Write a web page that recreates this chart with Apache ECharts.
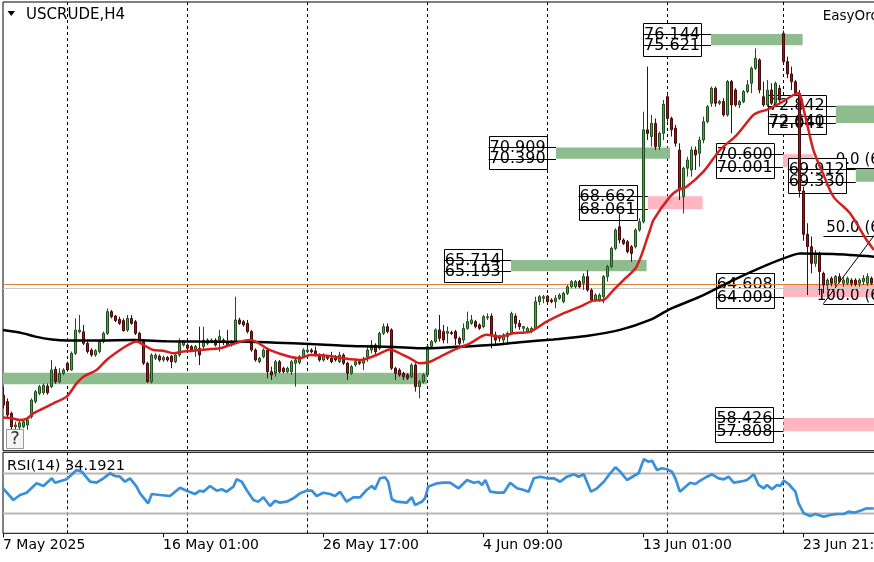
<!DOCTYPE html>
<html><head><meta charset="utf-8">
<script src="https://cdn.jsdelivr.net/npm/echarts@6/dist/echarts.min.js"></script>
<style>html,body{margin:0;padding:0;background:#fff;overflow:hidden}#c{width:874px;height:562px}</style>
</head><body><div id="c"></div><script>
const FONT = 'DejaVu Sans';
// x axis tick labels (every 40 H4 bars) and vertical grid-line bars
const xTickLabels = ['7 May 2025','16 May 01:00','26 May 17:00','4 Jun 09:00','13 Jun 01:00','23 Jun 21:00'];
const gridBars = [16,46,76,106,136,166,195];

// H4 candles, bar index 0..217
const opens = [
59.48,59.18,58.64,58.02,58.00,58.02,58.10,58.48,59.18,59.56,
59.59,59.90,59.87,60.67,60.10,60.48,60.95,60.64,61.41,62.40,
62.40,61.87,61.56,61.33,61.49,61.95,62.33,63.33,63.13,62.98,
62.92,62.48,63.02,62.87,62.33,61.95,60.95,60.10,61.18,61.28,
61.10,61.22,61.28,61.02,61.33,61.79,61.79,61.72,61.56,61.64,
61.72,61.87,61.95,62.02,61.95,62.02,61.95,61.79,61.95,62.95,
62.87,62.79,62.41,61.56,61.02,61.25,61.56,60.56,60.49,61.02,
60.72,60.56,60.56,60.95,60.98,61.25,61.48,61.56,61.52,61.33,
61.10,61.25,61.18,61.25,61.02,61.33,60.95,60.49,60.87,61.02,
60.95,61.25,61.56,61.79,61.64,62.33,62.64,62.49,60.72,60.64,
60.49,60.41,60.33,60.87,59.87,60.10,60.41,61.72,61.95,62.49,
62.41,62.33,62.37,62.41,62.10,62.02,62.56,62.79,62.87,62.72,
62.64,63.05,63.13,62.26,62.18,62.02,62.18,62.33,63.13,62.79,
62.56,62.41,62.41,62.56,63.79,63.95,64.05,63.87,63.79,63.95,
63.79,64.18,64.48,64.48,64.72,64.64,64.95,64.33,63.87,63.87,
64.02,64.95,65.41,66.25,67.25,66.64,66.56,66.33,66.33,67.10,
67.48,71.72,71.41,72.02,70.95,71.56,73.25,72.25,71.80,70.79,
68.64,69.95,69.87,70.79,70.64,71.25,72.10,72.95,73.64,72.95,
73.03,72.41,73.95,73.56,72.87,73.02,73.49,73.87,74.56,74.95,
73.25,72.87,73.56,72.95,73.64,76.17,74.87,74.30,73.94,73.40,
68.90,66.90,66.33,65.56,66.00,65.10,64.56,64.87,64.64,64.95,
64.64,64.64,64.79,64.79,64.64,64.72,64.64,64.87];
const highs = [
59.87,59.33,58.72,58.25,58.30,58.35,58.48,59.33,59.72,59.95,
60.02,60.02,61.10,60.80,60.72,60.72,61.02,61.49,63.02,63.18,
62.72,61.95,61.64,61.60,62.02,62.41,63.48,63.41,63.18,63.10,
63.02,63.18,63.18,62.95,62.41,62.02,61.02,61.41,61.41,61.36,
61.30,61.28,61.33,61.41,62.10,62.02,61.87,61.79,61.79,62.64,
62.64,62.10,62.10,62.10,62.49,62.10,62.49,62.02,64.02,63.05,
62.95,62.95,62.49,61.64,61.25,61.64,61.64,60.79,61.10,61.10,
60.79,60.79,61.10,61.25,61.33,61.64,61.72,61.64,61.72,61.41,
61.41,61.33,61.48,61.33,61.48,61.41,61.02,60.87,61.10,61.10,
61.25,61.72,62.02,61.87,62.41,62.79,62.79,62.56,60.79,60.72,
60.56,60.49,60.95,60.95,60.18,60.49,61.79,62.02,62.56,63.18,
62.72,62.64,62.45,62.49,62.18,62.79,63.33,63.18,62.95,62.79,
63.18,63.25,63.25,62.41,62.26,62.33,62.41,63.33,63.25,62.95,
62.67,62.64,62.64,64.02,64.10,64.10,64.10,63.95,64.10,64.18,
64.25,64.56,64.79,64.79,64.79,65.10,65.25,64.41,64.18,64.18,
65.02,65.49,66.33,67.18,67.87,66.72,66.64,66.41,67.18,67.64,
72.56,74.64,72.41,72.25,71.64,73.10,73.40,72.33,71.95,71.10,
70.02,70.48,70.95,70.95,71.41,72.33,72.87,73.72,73.72,73.10,
73.18,74.02,74.02,73.64,73.10,73.56,74.02,74.64,75.48,75.02,
73.95,74.02,73.87,73.95,73.80,76.30,75.10,74.64,74.02,73.56,
69.10,67.41,66.80,66.18,66.10,65.18,64.87,64.95,65.02,65.10,
64.95,64.95,64.87,64.87,64.87,65.02,65.10,64.95];
const lows = [
58.87,58.41,57.79,57.85,57.90,57.95,57.88,58.40,59.10,59.48,
59.50,59.50,59.80,60.00,60.02,60.40,60.56,60.60,61.33,62.33,
61.79,61.40,61.25,61.25,61.41,61.87,62.25,63.02,62.85,62.72,
62.41,62.40,62.72,62.25,61.87,60.87,60.05,60.02,61.10,61.02,
61.02,61.02,60.72,60.95,61.25,61.72,61.56,61.49,61.25,60.87,
61.56,61.79,61.87,61.72,61.48,61.79,61.72,61.72,61.87,62.72,
62.64,62.33,61.48,61.02,60.95,61.18,60.26,60.18,60.33,60.49,
60.49,60.49,60.41,59.87,60.90,61.18,61.41,61.41,61.25,61.02,
61.02,61.10,60.95,61.02,60.95,60.87,60.18,60.41,60.79,60.87,
60.64,61.02,61.41,61.33,61.56,62.25,62.33,60.64,60.18,60.33,
60.18,60.18,60.26,59.64,59.33,60.02,60.33,61.64,61.87,61.95,
61.87,61.87,62.26,61.79,61.79,61.87,62.49,62.72,62.56,62.49,
62.56,62.95,61.64,61.79,61.95,61.87,61.87,62.26,62.56,62.49,
62.41,62.33,62.33,62.49,63.64,63.72,63.72,63.72,63.49,63.87,
63.72,64.10,64.41,64.41,64.41,64.33,64.25,63.79,63.80,63.79,
63.72,64.72,65.33,66.17,66.48,66.41,66.02,65.64,66.25,67.02,
67.40,71.25,70.95,70.79,70.79,71.25,72.10,71.41,70.95,68.48,
67.87,69.56,69.56,69.87,70.02,71.10,72.02,72.79,72.79,72.87,
72.33,72.33,71.56,72.79,72.72,72.95,73.41,73.41,74.48,73.41,
72.79,72.79,72.87,72.79,72.95,74.80,74.10,73.56,73.33,68.60,
66.60,64.10,65.10,65.40,64.10,64.18,64.33,64.50,64.48,64.64,
64.48,64.56,64.50,64.50,64.48,64.56,64.52,64.56];
const closes = [
59.02,58.56,58.02,58.10,58.20,58.25,58.33,59.25,59.64,59.87,
59.93,59.59,60.64,60.10,60.48,60.64,60.64,61.41,62.48,62.48,
61.87,61.49,61.33,61.53,61.95,62.33,63.33,63.10,62.92,62.79,
62.45,63.02,62.79,62.33,61.95,60.95,60.10,61.33,61.33,61.10,
61.22,61.10,61.02,61.33,61.87,61.95,61.64,61.56,61.72,61.33,
62.02,62.02,62.02,61.79,62.18,61.90,61.79,61.95,62.95,62.79,
62.72,62.41,61.56,61.10,61.18,61.56,60.56,60.41,61.02,60.56,
60.56,60.72,61.02,61.10,61.25,61.56,61.56,61.48,61.33,61.10,
61.33,61.18,61.02,61.10,61.33,60.95,60.49,60.79,61.02,60.95,
61.10,61.56,61.79,61.48,62.33,62.64,62.41,60.72,60.49,60.41,
60.33,60.26,60.87,59.87,60.10,60.41,61.72,61.95,62.49,62.10,
62.02,62.41,62.33,62.10,61.87,62.56,62.87,62.95,62.64,62.56,
63.10,63.10,62.26,62.02,62.10,62.26,62.33,63.25,62.79,62.64,
62.64,62.56,62.56,63.79,64.02,64.02,63.79,63.79,63.95,64.10,
64.18,64.48,64.72,64.72,64.48,64.95,64.33,63.87,64.10,64.10,
64.95,65.41,66.25,67.10,66.64,66.48,66.10,66.02,67.10,67.48,
71.72,71.56,72.02,70.95,71.56,72.90,72.25,71.72,71.10,68.95,
69.95,70.33,70.79,70.56,71.25,72.10,72.79,73.64,72.95,73.03,
72.41,73.95,72.87,72.87,73.02,73.49,73.80,74.56,75.02,73.56,
72.87,73.56,72.95,73.87,73.10,74.87,74.30,73.94,73.40,68.90,
66.90,66.33,65.56,66.00,65.18,64.56,64.79,64.64,64.95,64.72,
64.79,64.87,64.64,64.60,64.79,64.87,64.95,64.64];

// moving averages (bar, value)
const maRedBars = [0,2.5,4.25,6,7.6,10.1,12.6,15.9,18.4,20.1,23.4,25.9,29.25,31.75,33.4,35.1,37.6,40.1,42.6,45.1,47.6,50.9,54.25,56.75,61.75,66.75,71.75,74.25,76.75,81.75,85.1,89.25,93.4,96.75,98.4,101.75,104.25,106.75,109.25,112.6,116.75,120.9,124.25,127.6,131.75,135.9,140.1,144.25,147.6,150.1,152.6,155.1,158.4,161.75,162.6,166.75,168.8,170.9,175.1,179.25,183.4,187.6,189.25,190.9,194.25,197.6,198.8,200.5,202.6,205,207.6,211.75,215.9,217.75];
const maRedVals = [58.45,58.40,58.33,58.40,58.64,58.87,59.10,59.41,60.02,60.33,60.64,61.10,61.56,61.84,61.95,61.80,61.56,61.53,61.41,61.49,61.53,61.59,61.64,61.79,62.02,61.56,61.25,61.18,61.33,61.29,61.18,61.10,61.33,61.59,61.48,61.18,60.95,61.02,61.25,61.56,61.87,62.26,62.18,62.33,62.41,62.87,63.25,63.56,63.84,63.87,64.33,64.79,65.41,67.10,67.56,68.64,68.95,69.10,69.79,70.79,71.48,72.41,72.56,72.64,72.95,73.33,73.41,72.40,70.79,69.71,68.64,67.87,66.64,66.18];
const maBlackBars = [0,5,8.1,12.25,16,24.25,32.6,40.9,49.25,60,68.4,76.75,85.1,93.4,101.75,104.25,112.6,120.9,129.25,137.6,145.9,154.25,161.75,166.75,174.25,182.6,190.9,197.6,199.25,207.6,217.75];
const maBlackVals = [62.48,62.33,62.18,62.05,62.00,62.00,62.02,61.97,61.95,61.94,61.90,61.84,61.76,61.72,61.67,61.64,61.70,61.78,61.92,62.05,62.21,62.49,62.95,63.45,64.02,64.79,65.48,65.95,66.02,65.99,65.87];

// RSI(14)
const rsiBars = [0,2.6,4.25,5.9,8.4,10.1,12.2,13,15.9,18.4,19.7,21.75,23.4,25.1,26.75,28,29.25,30.5,31.75,33.4,34.25,36.3,37.2,39.25,41.75,44.25,45.9,48,49.25,50.1,51.75,53.4,54.7,55.9,57.6,58.4,59.7,60.9,62.6,63.8,65.1,66.75,68,69.25,70.9,72.6,74.25,75.9,77.2,78.4,80.1,81.75,83,84.25,85.9,87.6,89.25,90.9,92.2,93,94.25,95.5,96.3,97.2,98.4,100.9,102.2,103,104.7,105.5,106.3,
108.5,110.2,111.8,113.9,116,117.7,118.9,119.75,120.6,121.8,123.5,125.2,126.8,128.5,130.2,131.4,132.7,134.3,136,137.7,139.3,141,142.7,143.9,145.2,147,148.5,150.2,151.8,153.1,154.3,156,157.7,158.9,160.2,161.4,162.25,163.5,164.75,166,167.25,168.1,169.2,170.2,171.8,173.1,174.3,176,177.25,178.9,180.2,181.4,182.7,184.3,186,187.7,188.9,190.2,191,192.25,193.5,194.3,195.2,196.4,198.1,198.9,200.2,201.8,203.1,205.2,206.8,208.5,210.2,211.4,212.7,214.3,216,217.7];
const rsiValues = [54.4,42.7,47.7,50,59.4,56.7,64.4,60,63.4,72.7,71,61,60,64.4,69.4,66.7,66,61,64.4,56,49.4,39.4,48.7,47.7,46.7,55,52,48.7,52,51,56.7,52,53.4,51,56,63.4,61,52.7,42.7,41,45.4,36.7,42,40,41,44.4,49.4,52,52,46.7,50,48.7,46.7,51,41,45.4,45.4,52.7,56.7,53.4,64.4,65.4,61,43.4,41,40,45.4,37.7,41,44.4,56,
59.4,60,60,54.4,62.7,60,61,57.7,62.7,51,50,50,60,54.4,52.7,51,64.4,66,64.4,64.4,61,66,68.4,66,68.4,51,54.4,61,69.4,75.4,71,62.7,66.7,69.4,83.4,81,82,72.7,74.4,73.4,71,64.4,51,54.4,60,58.7,62,66,68.4,64.4,63.4,66,60,61,62.7,68.4,57.7,54.4,57.7,53.4,57.7,56.7,62,58.7,51,39.4,29.4,26.7,28.7,26,27.7,28.7,28.7,31,30,32,34.4,34.2];
const rsiLevels = [70, 30];

// supply / demand zones
const zoneStartBar = [0, 127, 138.25, 161.2, 177, 208.2, 195, 213.2, 195, 195.1];
const zoneEndBar   = [106, 160.9, 166.75, 174.9, 199.9, 240, 202.5, 240, 240, 240];
const zoneTop      = [60.51, 65.714, 70.909, 68.662, 76.144, 72.842, 70.600, 69.912, 64.608, 58.426];
const zoneBottom   = [59.98, 65.193, 70.390, 68.061, 75.621, 72.041, 70.001, 69.330, 64.009, 57.808];
const zoneKind     = ['g','g','g','p','g','g','p','g','p','p'];

// price label boxes
const boxRightBar   = [174.5, 205.7, 135.9, 158.4, 124.7, 192.7, 210.7, 192.7, 192.6];
const boxLineEndBar = [177, 208.2, 138.25, 161.2, 127, 195, 213.2, 195, 195.1];
const boxTexts = [['76.144','75.621'],['72.842','72.640','72.041'],['70.909','70.390'],['68.662','68.061'],['65.714','65.193'],['70.600','70.001'],['69.912','69.330'],['64.608','64.009'],['58.426','57.808']];
const boxTextPrices = [[76.144,75.621],[72.842,72.13,72.041],[70.909,70.390],[68.662,68.061],[65.714,65.193],[70.600,70.001],[69.912,69.330],[64.608,64.009],[58.426,57.808]];
const boxLinePrices = [[76.144,75.621],[72.842,72.38,72.041],[70.909,70.390],[68.662,68.061],[65.714,65.193],[70.600,70.001],[69.912,69.330],[64.608,64.009],[58.426,57.808]];

// Fibonacci retracement
const fibNames = ['0.0','50.0','100.0'];
const fibPrices = [69.98, 66.84, 63.70];
const fibStartBar = 205.1, fibTextBar = 231.4;
const fibTrend = [[205.1, 63.70], [230.4, 69.98]];

// bid / ask lines
const priceLines = [64.625, 64.41];
const priceLineColors = ['#e07b39', '#c8c8c8'];

const ZONE_GREEN = '#8fbc8f', ZONE_PINK = '#ffb6c1';

const chart = echarts.init(document.getElementById('c'));

function vGrid(params, api) {
  const cs = params.coordSys;
  const x = Math.round(api.coord([api.value(0), 0])[0]) + 0.5;
  return {type:'line', shape:{x1:x, y1:cs.y, x2:x, y2:cs.y + cs.height}, style:{stroke:'#000', lineWidth:1, lineDash:[3,3]}};
}
function hLine(color, width) {
  return function(params, api) {
    const cs = params.coordSys;
    const y = Math.round(api.coord([0, api.value(1)])[1]) + 0.5;
    const c = typeof color === 'function' ? color(params.dataIndex) : color;
    return {type:'line', shape:{x1:cs.x, y1:y, x2:cs.x + cs.width, y2:y}, style:{stroke:c, lineWidth:width}};
  };
}

const option = {
  animation: false,
  backgroundColor: '#fff',
  grid: [
    {left:3, right:-1, top:2, height:448.7, show:true, borderColor:'#000', borderWidth:1, backgroundColor:'transparent', containLabel:false, outerBoundsMode:'none'},
    {left:3, right:-1, top:452.3, height:81, show:true, borderColor:'#000', borderWidth:1, backgroundColor:'transparent', containLabel:false, outerBoundsMode:'none'}
  ],
  xAxis: [
    {type:'value', gridIndex:0, min:0, max:218, show:false},
    {type:'value', gridIndex:1, min:0, max:218, interval:40,
     axisLine:{show:false}, splitLine:{show:false},
     axisTick:{show:true, length:4, lineStyle:{color:'#000'}},
     axisLabel:{show:true, margin:5, align:'left', color:'#000', fontFamily:FONT, fontSize:14, showMaxLabel:false,
       formatter: v => xTickLabels[Math.round(v/40)] || ''}}
  ],
  yAxis: [
    {type:'value', gridIndex:0, min:56.915, max:77.621, show:false},
    {type:'value', gridIndex:1, min:9.4, max:90.4, show:false}
  ],
  graphic: [
    {type:'polygon', z:100, shape:{points:[[7.5,11],[15,11],[11.25,16]]}, style:{fill:'#000'}},
    {type:'text', z:100, x:26, y:15, style:{text:'USCRUDE,H4', font:'15px "DejaVu Sans"', fill:'#000', verticalAlign:'middle'}},
    {type:'text', z:100, x:822.7, y:16, style:{text:'EasyOrder', font:'13.5px "DejaVu Sans"', fill:'#000', verticalAlign:'middle'}},
    {type:'text', z:100, x:7, y:466, style:{text:'RSI(14) 34.1921', font:'14.5px "DejaVu Sans"', fill:'#000', verticalAlign:'middle'}},
    {type:'rect', z:100, shape:{x:6.5, y:429.5, width:17, height:19}, style:{fill:'#f4f4f4', stroke:'#9a9a9a', lineWidth:1}},
    {type:'text', z:101, x:15, y:439.5, style:{text:'?', font:'18px "DejaVu Sans"', fill:'#333', align:'center', verticalAlign:'middle'}}
  ],
  series: [
    {type:'custom', name:'vgrid0', xAxisIndex:0, yAxisIndex:0, z:1, silent:true,
     data: gridBars.map(b => [b, 60]), renderItem: vGrid},
    {type:'custom', name:'vgrid1', xAxisIndex:1, yAxisIndex:1, z:1, silent:true,
     data: gridBars.map(b => [b, 50]), renderItem: vGrid},
    {type:'custom', name:'zones', xAxisIndex:0, yAxisIndex:0, z:2, silent:true, clip:true,
     data: zoneTop.map((t,k) => [zoneStartBar[k], t, zoneEndBar[k], zoneBottom[k], k]),
     encode:{x:[0,2], y:[1,3]},
     renderItem: (params, api) => {
       const k = api.value(4);
       const a = api.coord([api.value(0), api.value(1)]);
       const b = api.coord([api.value(2), api.value(3)]);
       return {type:'rect', shape:{x:a[0], y:a[1], width:b[0]-a[0], height:b[1]-a[1]},
               style:{fill: zoneKind[k] === 'g' ? ZONE_GREEN : ZONE_PINK}};
     }},
    {type:'custom', name:'fib', xAxisIndex:0, yAxisIndex:0, z:3, silent:true, clip:true,
     data: fibPrices.map((p,k) => [fibStartBar, p, k]),
     renderItem: (params, api) => {
       const cs = params.coordSys;
       const k = api.value(2);
       const a = api.coord([api.value(0), api.value(1)]);
       const tx = api.coord([fibTextBar, api.value(1)])[0];
       const y = Math.round(a[1]) + 0.5;
       const children = [
         {type:'line', shape:{x1:a[0], y1:y, x2:cs.x + cs.width, y2:y}, style:{stroke:'#000', lineWidth:1}},
         {type:'text', x:tx, y:a[1] - 7.5, style:{text: fibNames[k] + ' (' + api.value(1).toFixed(3) + ')', font:'15px "DejaVu Sans"', fill:'#000', align:'right', verticalAlign:'middle'}}
       ];
       if (k === 0) {
         const p1 = api.coord(fibTrend[0]), p2 = api.coord(fibTrend[1]);
         children.push({type:'line', shape:{x1:p1[0], y1:p1[1], x2:p2[0], y2:p2[1]}, style:{stroke:'#000', lineWidth:1}});
       }
       return {type:'group', children};
     }},
    {type:'custom', name:'boxes', xAxisIndex:0, yAxisIndex:0, z:4, silent:true,
     data: boxRightBar.map((r,k) => [r, boxTextPrices[k][0], k]),
     renderItem: (params, api) => {
       const k = api.value(2);
       const right = api.coord([boxRightBar[k], 60])[0];
       const lineEnd = api.coord([boxLineEndBar[k], 60])[0];
       const W = 58, left = right - W;
       const tys = boxTextPrices[k].map(p => api.coord([0, p])[1]);
       const top = Math.min(...tys) - 11, bottom = Math.max(...tys) + 11;
       const children = [{type:'rect', shape:{x:Math.round(left)+0.5, y:Math.round(top)+0.5, width:W, height:Math.round(bottom-top)},
                          style:{fill:'#fff', stroke:'#000', lineWidth:1}}];
       boxLinePrices[k].forEach(p => {
         const y = Math.round(api.coord([0, p])[1]) + 0.5;
         children.push({type:'line', shape:{x1:left, y1:y, x2:lineEnd, y2:y}, style:{stroke:'#000', lineWidth:1}});
       });
       boxTexts[k].forEach((t, j) => {
         children.push({type:'text', x:left + W/2, y:tys[j] + 0.5, style:{text:t, font:'16px "DejaVu Sans"', fill:'#000', align:'center', verticalAlign:'middle'}});
       });
       return {type:'group', children};
     }},
    {type:'custom', name:'pricelines', xAxisIndex:0, yAxisIndex:0, z:5, silent:true,
     data: priceLines.map(p => [0, p]), renderItem: hLine(i => priceLineColors[i], 1)},
    {type:'custom', name:'candles', xAxisIndex:0, yAxisIndex:0, z:6, silent:true, clip:true,
     data: opens.map((o,i) => [i, o, highs[i], lows[i], closes[i]]),
     encode:{x:0, y:[1,2,3,4]},
     renderItem: (params, api) => {
       const i = api.value(0), o = api.value(1), h = api.value(2), l = api.value(3), c = api.value(4);
       const x = Math.round(api.coord([i, o])[0]);
       const yO = api.coord([i, o])[1], yC = api.coord([i, c])[1];
       const yH = api.coord([i, h])[1], yL = api.coord([i, l])[1];
       const bull = c >= o;
       const edge = bull ? '#1f4f1f' : '#4a0a0a';
       const fill = bull ? '#4f9f4f' : '#8b1c1c';
       const top = Math.min(yO, yC), bot = Math.max(yO, yC);
       return {type:'group', children:[
         {type:'line', shape:{x1:x+0.5, y1:yH, x2:x+0.5, y2:yL}, style:{stroke:edge, lineWidth:1}},
         {type:'rect', shape:{x:x-0.5, y:top, width:2, height:Math.max(1, bot-top)}, style:{fill:fill, stroke:edge, lineWidth:1}}
       ]};
     }},
    {type:'line', name:'MA black', xAxisIndex:0, yAxisIndex:0, z:7, silent:true, clip:true,
     data: maBlackBars.map((b,i) => [b, maBlackVals[i]]), showSymbol:false, smooth:0.3,
     lineStyle:{color:'#000', width:2.5}},
    {type:'line', name:'MA red', xAxisIndex:0, yAxisIndex:0, z:8, silent:true, clip:true,
     data: maRedBars.map((b,i) => [b, maRedVals[i]]), showSymbol:false, smooth:0.3,
     lineStyle:{color:'#d41f1f', width:2.5}},
    {type:'custom', name:'rsiLevels', xAxisIndex:1, yAxisIndex:1, z:2, silent:true,
     data: rsiLevels.map(v => [0, v]), renderItem: hLine('#b8b8b8', 2)},
    {type:'line', name:'RSI', xAxisIndex:1, yAxisIndex:1, z:5, silent:true, clip:true,
     data: rsiBars.map((b,i) => [b, rsiValues[i]]), showSymbol:false,
     lineStyle:{color:'#3a8fd9', width:2.7}}
  ]
};
chart.setOption(option);
</script></body></html>
